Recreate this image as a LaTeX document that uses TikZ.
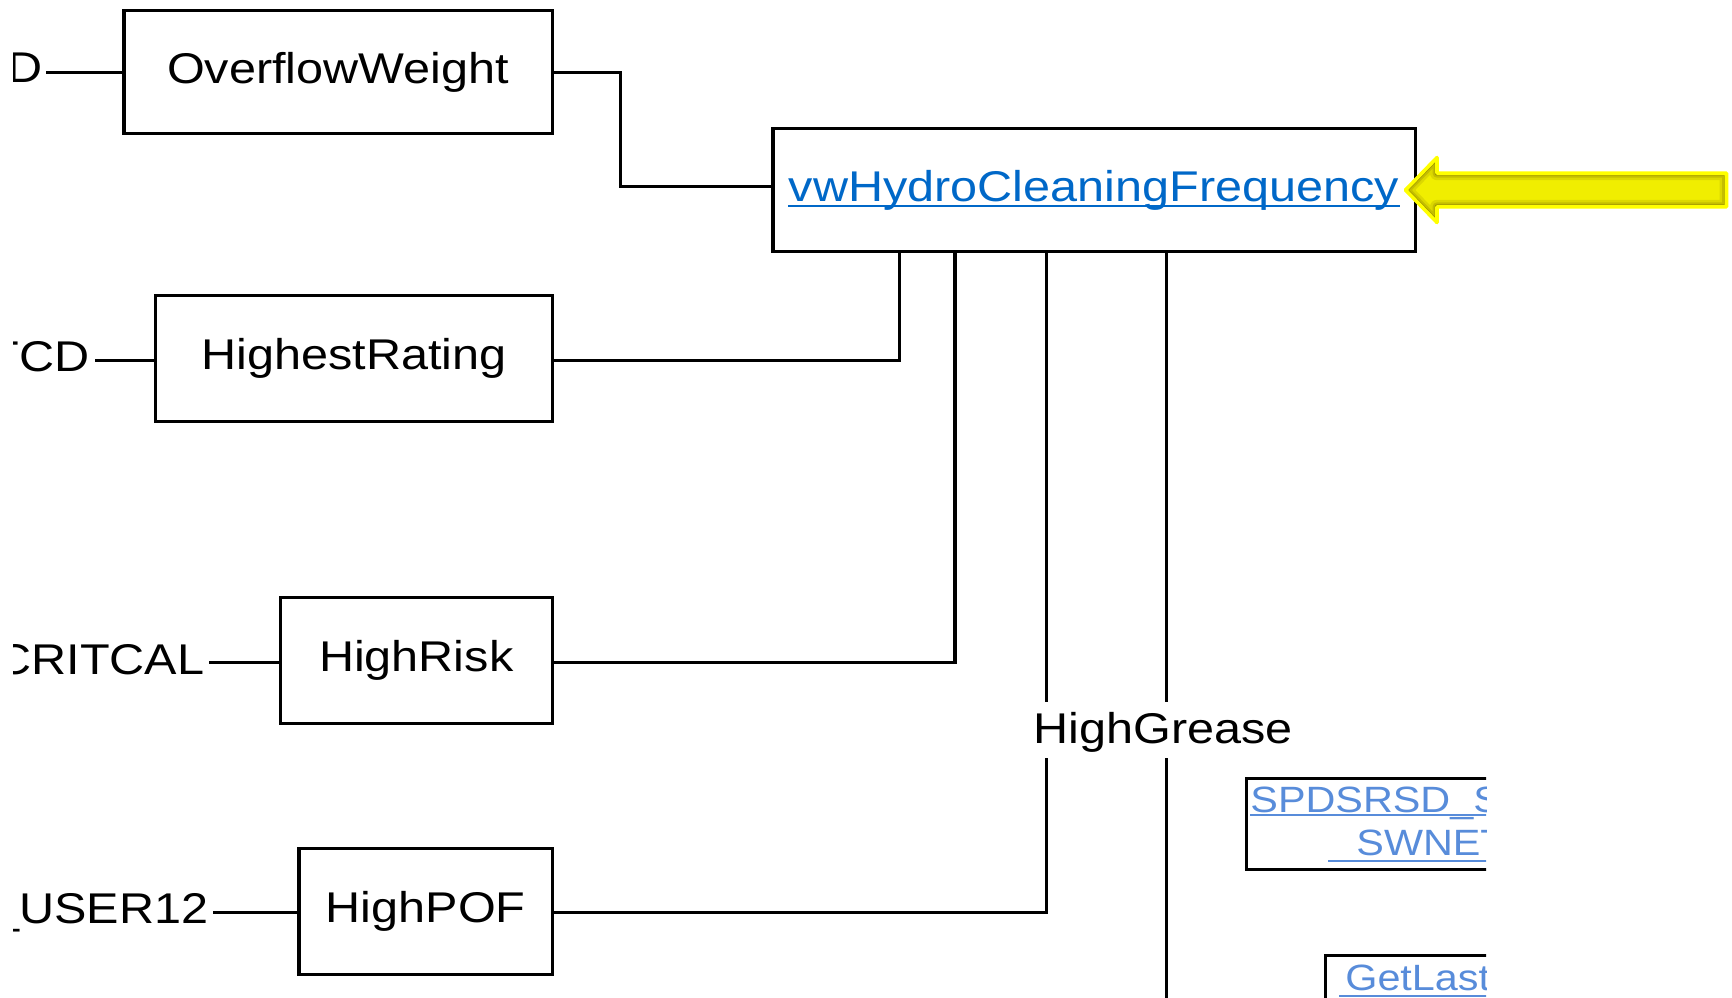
\documentclass[tikz,border=0pt]{standalone}
\usepackage{fontspec}
\setmainfont{Liberation Sans}[FakeStretch=1.13]
\definecolor{linkblue}{RGB}{0,104,200}
\definecolor{linkfade}{RGB}{88,140,218}
\definecolor{arrowfill}{RGB}{240,238,0}
\definecolor{arrowdark}{RGB}{160,150,0}
\definecolor{arrowedge}{RGB}{255,255,0}
\begin{document}
\begin{tikzpicture}[x=0.5pt,y=-0.5pt,
  every node/.style={font=\fontsize{21.5}{24}\selectfont},
  box/.style={draw, line width=1.6pt, rectangle, inner sep=0pt},
  conn/.style={line width=1.6pt},
  lab/.style={anchor=base east, inner xsep=2.3pt, inner ysep=0pt},
  small/.style={font=\fontsize{18.3}{20}\selectfont, text=linkfade, inner sep=0pt, anchor=base west},
  uline/.style={line width=1.15pt}]
\useasboundingbox (0,0) rectangle (1732,997);

% boxes
\node[box, minimum width=214.2pt, minimum height=61.4pt] (ow) at (338.2,72.2) {OverflowWeight};
\node[box, minimum width=198.3pt, minimum height=63pt] (hr) at (354,358.8) {HighestRating};
\node[box, minimum width=136.1pt, minimum height=63pt] (hk) at (416.2,660.7) {HighRisk};
\node[box, minimum width=126.7pt, minimum height=63pt] (hp) at (425.6,911.2) {HighPOF};
\node[box, minimum width=321.1pt, minimum height=61.2pt] (main) at (1094,190) {};
\node[inner sep=0pt, text=linkblue] (mainlbl) at (main) {vwHydroCleaningFrequency};
\draw[uline, linkblue] ([yshift=-2.3pt]mainlbl.base west) -- ([yshift=-2.3pt]mainlbl.base east);

% left labels (clipped at the left edge)
\begin{scope}
\clip (13,-5) rectangle (600,1002);
\node[lab, inner xsep=1.5pt] (lD) at (46,82.7) {D};
\node[lab] (lCD) at (94.6,371.7) {TCD};
\node[lab] (lCR) at (209.3,674.3) {CRITCAL};
\node[lab] (lUS) at (213.2,923.3) {\_USER12};
\end{scope}
\draw[conn] (ow.west) -- (ow.west -| lD.east);
\draw[conn] ([yshift=-0.9pt]hr.west) -- ([yshift=-0.9pt]hr.west -| lCD.east);
\draw[conn] ([yshift=-0.9pt]hk.west) -- ([yshift=-0.9pt]hk.west -| lCR.east);
\draw[conn] ([yshift=-0.7pt]hp.west) -- ([yshift=-0.7pt]hp.west -| lUS.east);

% drop points on the bottom of the main box
\coordinate (d1) at ([xshift=64.1pt]main.south west);
\coordinate (d2) at ([xshift=91.85pt]main.south west);
\coordinate (d3) at ([xshift=137.4pt]main.south west);
\coordinate (d4) at ([xshift=197.45pt]main.south west);
\coordinate (owbend) at (620.8,130);
\coordinate (bot) at (0,1002);

% connectors
\draw[conn] (ow.east) -| (owbend) |- ([yshift=1.65pt]main.west);
\draw[conn] ([yshift=-0.9pt]hr.east) -| (d1);
\draw[conn] ([yshift=-0.9pt]hk.east) -| (d2);
\draw[conn] ([yshift=-0.7pt]hp.east) -| (d3);
\draw[conn] (d4) -- (d4 |- bot);

\node[fill=white, inner sep=0pt, text height=20.5pt, text depth=7.5pt, anchor=base] (hg) at (1163.3,743.3) {HighGrease};

% clipped boxes at lower right
\begin{scope}
\clip (1000,700) rectangle (1486,1002);
\node[box, minimum width=156.75pt, minimum height=45.2pt] (spd) at (1403.25,824) {};
\node[small] (spd1) at (1250,812.7) {SPDSRSD\_S};
\node[small] (spd2) at (1356,855) {SWNET};
\draw[uline, linkfade] (spd1.base west |- 0,815.3) -- (1490,815.3);
\draw[uline, linkfade] (1328,860.7) -- (1490,860.7);
\node[box, minimum width=117.1pt, minimum height=42.1pt] (gl) at (1442.9,997.9) {};
\node[small] (gl1) at (1344.9,990) {GetLast};
\draw[uline, linkfade] (1339.3,996) -- (1490,996);
\end{scope}

% yellow highlight arrow
\begin{scope}
\clip (1405.5,190) -- (1437,157.5) -- (1437,173.2) -- (1726.5,173.2) -- (1726.5,206.8) -- (1437,206.8) -- (1437,222.5) -- cycle;
\fill[arrowfill] (1400,150) rectangle (1732,230);
\draw[line width=7pt, arrowdark!25!arrowfill, line join=round] (1405.5,190) -- (1437,157.5) -- (1437,173.2) -- (1726.5,173.2) -- (1726.5,206.8) -- (1437,206.8) -- (1437,222.5) -- cycle;
\draw[line width=4.5pt, arrowdark!55!arrowfill, line join=round] (1405.5,190) -- (1437,157.5) -- (1437,173.2) -- (1726.5,173.2) -- (1726.5,206.8) -- (1437,206.8) -- (1437,222.5) -- cycle;
\draw[line width=2.5pt, arrowdark, line join=round] (1405.5,190) -- (1437,157.5) -- (1437,173.2) -- (1726.5,173.2) -- (1726.5,206.8) -- (1437,206.8) -- (1437,222.5) -- cycle;
\end{scope}
\draw[line width=1.8pt, arrowedge, line join=round] (1405.5,190) -- (1437,157.5) -- (1437,173.2) -- (1726.5,173.2) -- (1726.5,206.8) -- (1437,206.8) -- (1437,222.5) -- cycle;
\end{tikzpicture}
\end{document}
